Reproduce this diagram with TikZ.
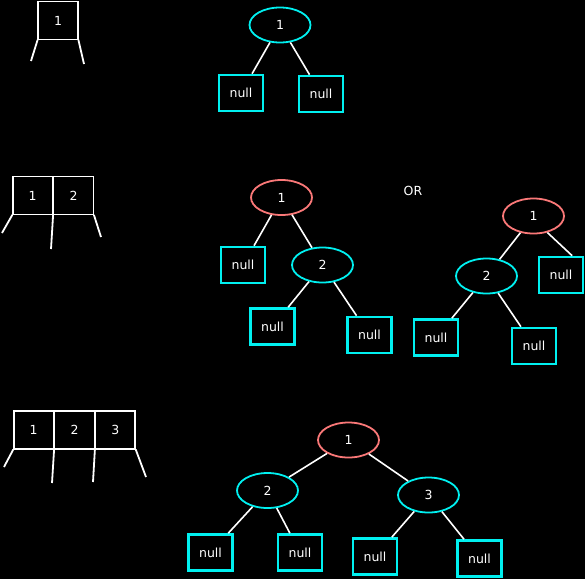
\documentclass[tikz,border=0pt]{standalone}
\usepackage{fontspec}
\setmainfont{DejaVu Sans}
\usetikzlibrary{positioning,shapes.geometric}

\definecolor{ciano}{RGB}{0,240,240}
\definecolor{salmao}{RGB}{250,120,120}

\begin{document}
\begin{tikzpicture}[
    x=1pt, y=-1pt,
    every node/.style={text=white, font=\fontsize{12.5}{14}\selectfont},
    celula/.style={draw=white, line width=1.8pt, outer sep=0.4pt,
        minimum width=40pt, minimum height=38pt, inner sep=0pt},
    perna/.style={draw=white, line width=1.8pt},
    raiz/.style={draw=salmao, ellipse, line width=1.8pt,
        minimum width=61pt, minimum height=35pt, inner sep=0pt},
    interno/.style={draw=ciano, ellipse, line width=1.8pt,
        minimum width=61pt, minimum height=35pt, inner sep=0pt},
    nulo/.style={draw=ciano, line width=2.6pt,
        minimum width=44pt, minimum height=36pt, inner sep=0pt},
    aresta/.style={draw=white, line width=1.6pt}
]
    \fill[black] (0,0) rectangle (585,579);
    \useasboundingbox (0,0) rectangle (585,579);

    % arrays
    \node[celula] (a1) at (58,20.5) {1};
    \coordinate (a1l) at (31,61);
    \coordinate (a1r) at (84,64);
    \draw[perna] (a1.south west) -- (a1l);
    \draw[perna] (a1.south east) -- (a1r);

    \node[celula] (b1) at (32.7,195.5) {1};
    \node[celula, right=0pt of b1] (b2) {2};
    \coordinate (b1l) at (2,233);
    \coordinate (b1r) at (51,249);
    \coordinate (b2r) at (101,237);
    \draw[perna] (b1.south west) -- (b1l);
    \draw[perna] (b1.south east) -- (b1r);
    \draw[perna] (b2.south east) -- (b2r);

    \node[celula] (c1) at (33.7,430) {1};
    \node[celula, right=0pt of c1] (c2) {2};
    \node[celula, right=0pt of c2] (c3) {3};
    \coordinate (c1l) at (4,467);
    \coordinate (c1r) at (52,483);
    \coordinate (c2r) at (93,482);
    \coordinate (c3r) at (146,477);
    \draw[perna] (c1.south west) -- (c1l);
    \draw[perna] (c1.south east) -- (c1r);
    \draw[perna] (c2.south east) -- (c2r);
    \draw[perna] (c3.south east) -- (c3r);

    % tree with one key
    \node[interno] (u1) at (280,25) {1};
    \node[nulo] (u1a) at (241,93) {null};
    \node[nulo] (u1b) at (321,94) {null};
    \draw[aresta] (u1) -- (u1a);
    \draw[aresta] (u1) -- (u1b);

    % trees with two keys
    \node[raiz] (d1) at (281.5,197.5) {1};
    \node[nulo] (d1a) at (243,265) {null};
    \node[interno] (d2) at (322.5,265) {2};
    \node[nulo] (d2a) at (272.5,326.5) {null};
    \node[nulo] (d2b) at (369.5,335) {null};
    \draw[aresta] (d1) -- (d1a);
    \draw[aresta] (d1) -- (d2);
    \draw[aresta] (d2) -- (d2a);
    \draw[aresta] (d2) -- (d2b);

    \node (ou) at (413,191) {OR};

    \node[raiz] (e1) at (533.5,216) {1};
    \node[interno] (e2) at (486.5,276) {2};
    \node[nulo] (e1b) at (561,275) {null};
    \node[nulo] (e2a) at (436,337.5) {null};
    \node[nulo] (e2b) at (534,346) {null};
    \draw[aresta] (e1) -- (e2);
    \draw[aresta] (e1.-50) -- (e1b.60);
    \draw[aresta] (e2) -- (e2a);
    \draw[aresta] (e2) -- (e2b);

    % tree with three keys
    \node[raiz] (t1) at (348.5,440) {1};
    \node[interno] (t2) at (267.5,490.5) {2};
    \node[interno] (t3) at (428.5,495) {3};
    \node[nulo] (t2a) at (210.5,552.5) {null};
    \node[nulo] (t2b) at (300,552.5) {null};
    \node[nulo] (t3a) at (375,556.5) {null};
    \node[nulo] (t3b) at (479.5,558.5) {null};
    \draw[aresta] (t1) -- (t2);
    \draw[aresta] (t1) -- (t3);
    \draw[aresta] (t2) -- (t2a);
    \draw[aresta] (t2) -- (t2b);
    \draw[aresta] (t3) -- (t3a);
    \draw[aresta] (t3) -- (t3b);
\end{tikzpicture}
\end{document}
